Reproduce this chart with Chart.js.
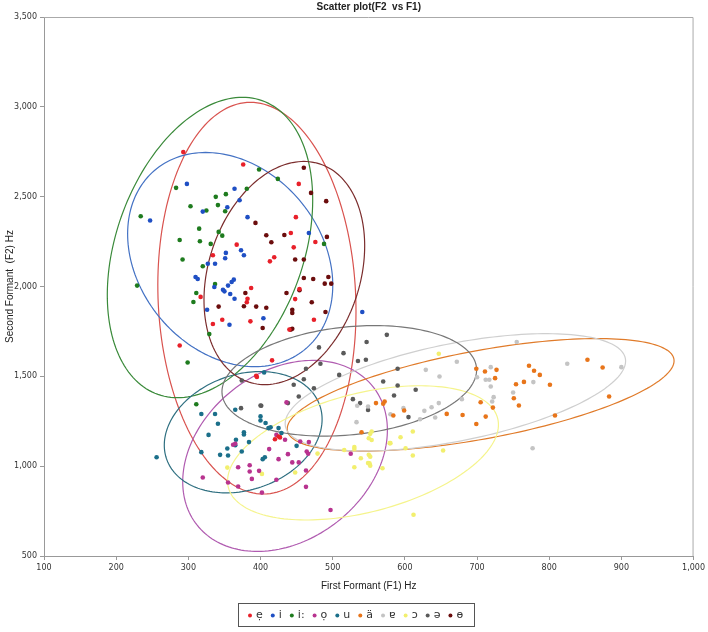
<!DOCTYPE html>
<html><head><meta charset="utf-8">
<script src="https://cdn.jsdelivr.net/npm/chart.js@4/dist/chart.umd.min.js"></script>
<style>html,body{margin:0;padding:0;background:#fff}#w{width:708px;height:632px}</style>
</head><body><div id="w"><canvas id="c"></canvas></div>
<script>
const xTicks=[100,200,300,400,500,600,700,800,900,1000];
const yTicks=[500,1000,1500,2000,2500,3000,3500];
const vowels=['ẹ','i','i:','ọ','u','ä','ɐ','ɔ','ə','ɵ'];
const pointColors=['#e8202a','#1f4fc4','#1e7b1e','#b8338f','#1b6f8a','#e8751a','#c4c4c4','#f2ef6e','#5a5a5a','#6b0d0d'];
const ellipseColors=['#d9534f','#4472c4','#3a8a3a','#b05bb0','#2e6f80','#e07b2a','#cfcfcf','#f5f48c','#777777','#7b2d2d'];
// ellipse: center, conjugate half-vectors u and v (data units)
const ellCenter=[[395,1935],[358,2150],[330,2217],[434,1057],[376,1189],[705,1397],[670,1411],[542,1074],[523,1475],[433,2075]];
const ellU=[[-9,1090],[-34,596],[45,836],[28,530],[17,337],[40,275],[20,290],[25,357],[12,305],[27,621]];
const ellV=[[137,0],[138,0],[135,0],[139,40],[108,20],[265,150],[235,150],[186,110],[176,40],[108,0]];

const e_pts=[[293,2748],[376,2679],[453,2571],[449,2386],[442,2298],[476,2248],[367,2233],[334,2174],[446,2218],[419,2163],[413,2140],[387,1992],[317,1942],[382,1932],[381,1912],[448,1930],[454,1986],[334,1791],[347,1815],[386,1806],[474,1815],[440,1760],[288,1672],[416,1589],[394,1503],[395,1496],[425,1165],[420,1150],[427,1160]];
const i_pts=[[298,2571],[247,2367],[320,2417],[354,2441],[364,2544],[371,2480],[382,2386],[467,2298],[373,2202],[377,2174],[352,2187],[351,2157],[337,2127],[327,2127],[310,2053],[313,2042],[363,2038],[360,2025],[355,2005],[348,1982],[350,1973],[358,1958],[336,1997],[364,1932],[326,1871],[404,1823],[357,1787],[541,1858]];
const ii_pts=[[234,2391],[283,2549],[303,2447],[325,2423],[338,2499],[352,2514],[341,2453],[351,2419],[381,2544],[398,2651],[424,2599],[315,2322],[342,2304],[347,2283],[288,2259],[316,2252],[331,2237],[292,2150],[320,2113],[337,2014],[229,2005],[311,1964],[307,1914],[329,1735],[488,2237],[299,1577],[311,1345]];
const o_pts=[[436,1355],[455,1137],[467,1134],[464,1082],[466,1069],[434,1147],[422,1174],[412,1095],[362,1119],[365,1125],[369,994],[385,1005],[385,970],[398,974],[388,929],[425,1039],[438,1067],[444,1021],[453,1021],[463,976],[422,924],[355,909],[369,887],[402,853],[463,885],[320,937],[497,756],[525,1069]];
const u_pts=[[256,1050],[365,1314],[337,1290],[318,1290],[341,1236],[328,1174],[377,1189],[377,1176],[366,1147],[365,1117],[384,1134],[400,1277],[400,1254],[407,1240],[411,1212],[414,1216],[425,1212],[429,1184],[354,1098],[344,1063],[355,1059],[374,1082],[318,1078],[403,1039],[406,1050],[450,1113],[405,1522]];
const a_pts=[[699,1542],[711,1527],[727,1536],[725,1490],[772,1559],[779,1531],[787,1508],[765,1469],[754,1456],[801,1453],[853,1592],[874,1549],[883,1388],[751,1378],[758,1338],[705,1356],[722,1326],[712,1276],[699,1235],[658,1291],[680,1285],[808,1282],[599,1310],[584,1282],[572,1360],[570,1347],[560,1351],[540,1189]];
const ae_pts=[[755,1691],[825,1570],[900,1551],[672,1581],[629,1536],[648,1499],[700,1495],[712,1481],[717,1481],[719,1551],[719,1443],[723,1384],[721,1360],[778,1468],[750,1410],[679,1373],[647,1351],[637,1328],[627,1308],[642,1271],[621,1261],[598,1323],[580,1289],[549,1332],[534,1336],[533,1245],[777,1100]];
const oo_pts=[[647,1626],[554,1193],[550,1155],[554,1146],[611,1193],[594,1161],[579,1128],[601,1100],[611,1059],[653,1087],[530,1096],[539,1044],[552,1053],[551,1016],[530,994],[569,988],[516,1090],[479,1070],[354,992],[402,957],[552,1180],[549,1017],[552,1003],[530,1106],[550,1063],[580,1128],[448,965],[612,730]];
const schwa_pts=[[575,1731],[547,1691],[481,1661],[515,1629],[535,1585],[546,1592],[590,1542],[463,1542],[483,1570],[509,1508],[460,1484],[446,1453],[474,1434],[570,1471],[590,1449],[615,1425],[453,1388],[528,1373],[585,1393],[538,1351],[438,1351],[400,1338],[549,1313],[605,1273],[374,1477],[373,1323],[401,1336]];
const barred_pts=[[460,2661],[470,2521],[491,2475],[393,2354],[408,2285],[415,2246],[433,2287],[492,2276],[448,2150],[460,2150],[460,2047],[473,2042],[494,2053],[489,2016],[498,2016],[454,1979],[379,1964],[436,1964],[342,1888],[377,1890],[394,1888],[408,1882],[444,1871],[444,1853],[471,1912],[490,1858],[403,1769],[444,1765],[442,1760]];
const seriesPts=[e_pts,i_pts,ii_pts,o_pts,u_pts,a_pts,ae_pts,oo_pts,schwa_pts,barred_pts];

const datasets=vowels.map((v,k)=>({label:v,data:seriesPts[k].map(p=>({x:p[0],y:p[1]})),
  backgroundColor:pointColors[k],borderColor:pointColors[k],pointRadius:2.3,pointBorderWidth:0,showLine:false}));

const ellPlugin={id:'ell',beforeDatasetsDraw(ch){
  const c=ch.ctx,xs=ch.scales.x,ys=ch.scales.y,a=ch.chartArea;
  c.save();c.beginPath();c.rect(a.left,a.top,a.right-a.left,a.bottom-a.top);c.clip();
  ellCenter.forEach((ct,k)=>{
    c.beginPath();
    for(let s=0;s<=180;s++){const t=s/180*2*Math.PI;
      const X=ct[0]+ellU[k][0]*Math.cos(t)+ellV[k][0]*Math.sin(t);
      const Y=ct[1]+ellU[k][1]*Math.cos(t)+ellV[k][1]*Math.sin(t);
      const px=xs.getPixelForValue(X),py=ys.getPixelForValue(Y);
      s?c.lineTo(px,py):c.moveTo(px,py);}
    c.strokeStyle=ellipseColors[k];c.lineWidth=1.2;c.stroke();});
  c.restore();
},afterDraw(ch){
  const c=ch.ctx,a=ch.chartArea;
  c.save();
  c.strokeStyle='#aaa';c.lineWidth=1;
  c.beginPath();c.moveTo(a.left,a.top+0.5);c.lineTo(a.right-0.5,a.top+0.5);c.lineTo(a.right-0.5,a.bottom);c.stroke();
  c.fillStyle='#222';c.font='bold 10px "Liberation Sans", Arial';c.textAlign='center';c.textBaseline='middle';
  c.fillText('Scatter plot(F2  vs F1)',(a.left+a.right)/2,7);
  // legend box
  const bx=238,by=603,bw=236,bh=23;
  c.strokeStyle='#555';c.lineWidth=1;c.strokeRect(bx+0.5,by+0.5,bw,bh);
  c.font='11px "DejaVu Sans"';c.textAlign='left';
  let x=bx+12;
  vowels.forEach((v,k)=>{
    c.fillStyle=pointColors[k];c.beginPath();c.arc(x,by+bh/2+1,2,0,7);c.fill();
    c.fillStyle='#333';c.fillText(v,x+6,by+bh/2+1);
    x+=6+c.measureText(v).width+10;});
  c.restore();
}};

new Chart(document.getElementById('c'),{type:'scatter',data:{datasets},
 options:{responsive:true,maintainAspectRatio:false,animation:false,
  layout:{padding:{top:17,right:10,bottom:36,left:0}},
  plugins:{legend:{display:false},title:{display:false},tooltip:{enabled:false}},
  scales:{
   x:{type:'linear',min:100,max:1000,afterBuildTicks(s){s.ticks=xTicks.map(v=>({value:v}));},
      afterFit(s){s.height=40;},
      grid:{display:true,drawOnChartArea:false,tickLength:4,color:'#999'},border:{color:'#999'},
      ticks:{font:{size:8,family:'DejaVu Sans'},color:'#333',maxRotation:0,padding:3},
      title:{display:true,text:'First Formant (F1) Hz',font:{size:10,family:'Liberation Sans'},color:'#222',padding:{top:4}}},
   y:{type:'linear',min:500,max:3500,afterBuildTicks(s){s.ticks=yTicks.map(v=>({value:v}));},
      afterFit(s){s.width=44;},
      grid:{display:true,drawOnChartArea:false,tickLength:4,color:'#999'},border:{color:'#999'},
      ticks:{font:{size:8,family:'DejaVu Sans'},color:'#333',padding:3},
      title:{display:true,text:'Second Formant  (F2) Hz',font:{size:10,family:'Liberation Sans'},color:'#222',padding:{bottom:2}}}
  }},plugins:[ellPlugin]});
</script></body></html>
